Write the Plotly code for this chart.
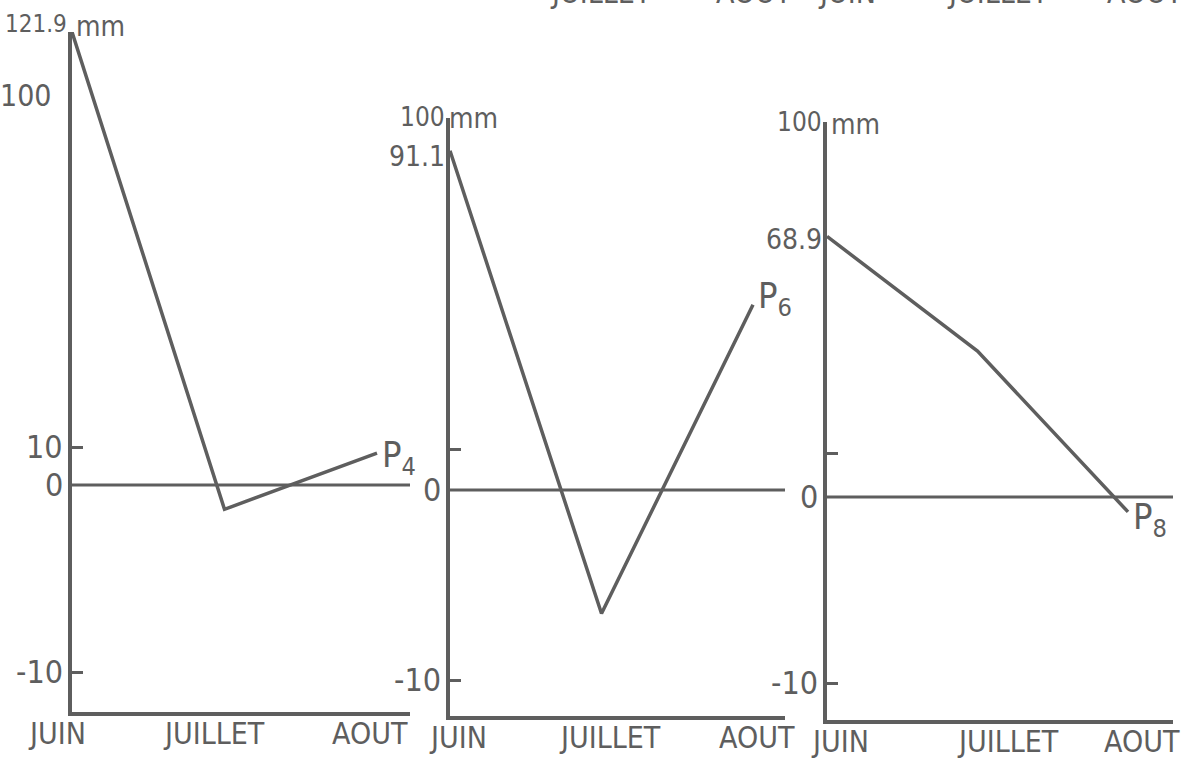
import numpy as np
import plotly.graph_objects as go

# Monthly values (mm) at three stations, June to August
MONTHS = ["JUIN", "JUILLET", "AOUT"]
STATIONS = ["P<sub>4</sub>", "P<sub>6</sub>", "P<sub>8</sub>"]
P4_MM = [121.9, -1.3, 8.4]
P6_MM = [91.1, -6.5, 49.2]
P8_MM = [68.9, 37.7, -0.8]
SERIES = [P4_MM, P6_MM, P8_MM]

# Ordinate labels written beside each axis
AXIS_LABELS = [
    [(10, "10"), (0, "0"), (-10, "-10")],
    [(0, "0"), (-10, "-10")],
    [(0, "0"), (-10, "-10")],
]
TOP_LABELS = ["121.9", "100", "100"]
TICK_VALUES = [-10, 10]

W, H = 1187, 759
INK = "#5e5e5e"
FONT = "Liberation Sans Narrow, Arial Narrow, DejaVu Sans Condensed, sans-serif"
LW = 3.5

# Panel frames on the page (px): left/right of the base line, top of the ordinate,
# base line height, spacing between months; the ordinate is drawn by hand with
# unequal spacing, so it is piecewise linear between (value, height) breakpoints.
PANELS = [
    dict(left=72, right=410, top=32, base=712, step=152.5,
         knots=[(-10, 40), (0, 227), (10, 265), (100, 617), (121.9, 680)],
         month_shift=[-15, -11, -7], top_shift=8, top_size=24, label_shift=[-4, 0],
         mm_shift=2),
    dict(left=450, right=785, top=118, base=716, step=151.5,
         knots=[(-10, 36), (0, 226), (10, 267), (100, 598)],
         month_shift=[8, 8, 4], top_shift=1, top_size=26, label_shift=[6, -6],
         mm_shift=-3),
    dict(left=827, right=1173, top=122, base=720, step=150.5,
         knots=[(-10, 37), (0, 223), (10, 267), (100, 598)],
         month_shift=[13, 30, 14], top_shift=0, top_size=26, label_shift=[-8, -3],
         mm_shift=2),
]


def ordinate(values, knots):
    v, h = zip(*knots)
    return np.interp(values, v, h)


fig = go.Figure()
shapes, annotations = [], []
x_idx = np.arange(len(MONTHS))

for i, (panel, series, station) in enumerate(zip(PANELS, SERIES, STATIONS)):
    n = "" if i == 0 else str(i + 1)
    xr, yr = "x" + n, "y" + n
    x_max = (panel["right"] - panel["left"]) / panel["step"]
    y_max = panel["base"] - panel["top"]
    y_vals = ordinate(series, panel["knots"])

    fig.add_trace(go.Scatter(
        x=x_idx, y=y_vals, mode="lines", xaxis=xr, yaxis=yr,
        line=dict(color=INK, width=LW), hoverinfo="skip", showlegend=False,
    ))

    fig.layout["xaxis" + n] = dict(
        domain=[panel["left"] / W, panel["right"] / W], range=[0, x_max],
        anchor=yr, showline=True, linecolor=INK, linewidth=LW,
        showgrid=False, zeroline=False, showticklabels=False, ticks="",
    )
    fig.layout["yaxis" + n] = dict(
        domain=[(H - panel["base"]) / H, (H - panel["top"]) / H], range=[0, y_max],
        anchor=xr, showline=True, linecolor=INK, linewidth=LW,
        showgrid=False, zeroline=False, showticklabels=False,
        ticks="inside", tickvals=ordinate(TICK_VALUES, panel["knots"]),
        ticklen=11, tickwidth=3, tickcolor=INK,
    )

    # zero line across the panel
    y0 = float(ordinate(0, panel["knots"]))
    shapes.append(dict(type="line", xref=xr, yref=yr, x0=0, x1=x_max, y0=y0, y1=y0,
                       line=dict(color=INK, width=3)))

    # ordinate labels
    for val, txt in AXIS_LABELS[i]:
        annotations.append(dict(
            xref=xr, yref=yr, x=0, y=float(ordinate(val, panel["knots"])),
            text=txt, showarrow=False, xanchor="right", yanchor="middle",
            xshift=-7, font=dict(size=32, color=INK, family=FONT)))

    # top of the ordinate: value + unit
    annotations.append(dict(
        xref=xr, yref=yr, x=0, y=y_max, text=TOP_LABELS[i], showarrow=False,
        xanchor="right", yanchor="middle", xshift=-3, yshift=panel["top_shift"],
        font=dict(size=panel["top_size"], color=INK, family=FONT)))
    annotations.append(dict(
        xref=xr, yref=yr, x=0, y=y_max, text="mm", showarrow=False,
        xanchor="left", yanchor="middle", xshift=panel["mm_shift"],
        yshift=panel["top_shift"] - 2,
        font=dict(size=28, color=INK, family=FONT)))

    # June value written at the axis (first panel shows the 100 mark instead)
    if i == 0:
        annotations.append(dict(
            xref=xr, yref=yr, x=0, y=float(ordinate(100, panel["knots"])),
            text="100", showarrow=False, xanchor="right", yanchor="middle",
            xshift=-18, font=dict(size=30, color=INK, family=FONT)))
    else:
        annotations.append(dict(
            xref=xr, yref=yr, x=0, y=float(y_vals[0]),
            text=f"{series[0]:.1f}", showarrow=False, xanchor="right",
            yanchor="middle", xshift=-3, yshift=panel["label_shift"][1],
            font=dict(size=28, color=INK, family=FONT)))

    # station name at the end of the curve
    annotations.append(dict(
        xref=xr, yref=yr, x=float(x_idx[-1]), y=float(y_vals[-1]), text=station,
        showarrow=False, xanchor="left", yanchor="middle", xshift=3,
        yshift=panel["label_shift"][0],
        font=dict(size=36, color=INK, family=FONT)))

    # month names under the base line
    for k, m in enumerate(MONTHS):
        annotations.append(dict(
            xref=xr, yref=yr, x=float(x_idx[k]), y=0, text=m, showarrow=False,
            xanchor="center", yanchor="top", xshift=panel["month_shift"][k],
            yshift=-2, font=dict(size=30, color=INK, family=FONT)))

# lower edge of the month row belonging to the charts above
for txt, cx in [("JUILLET", 601), ("AOUT", 754), ("JUIN", 847),
                ("JUILLET", 998), ("AOUT", 1145)]:
    annotations.append(dict(
        xref="paper", yref="paper", x=cx / W, y=1, text=txt, showarrow=False,
        xanchor="center", yanchor="bottom", yshift=-12,
        font=dict(size=30, color=INK, family=FONT)))

fig.update_layout(
    width=W, height=H, margin=dict(l=0, r=0, t=0, b=0),
    paper_bgcolor="white", plot_bgcolor="white",
    shapes=shapes, annotations=annotations, showlegend=False,
)

fig.write_html("out.html")
